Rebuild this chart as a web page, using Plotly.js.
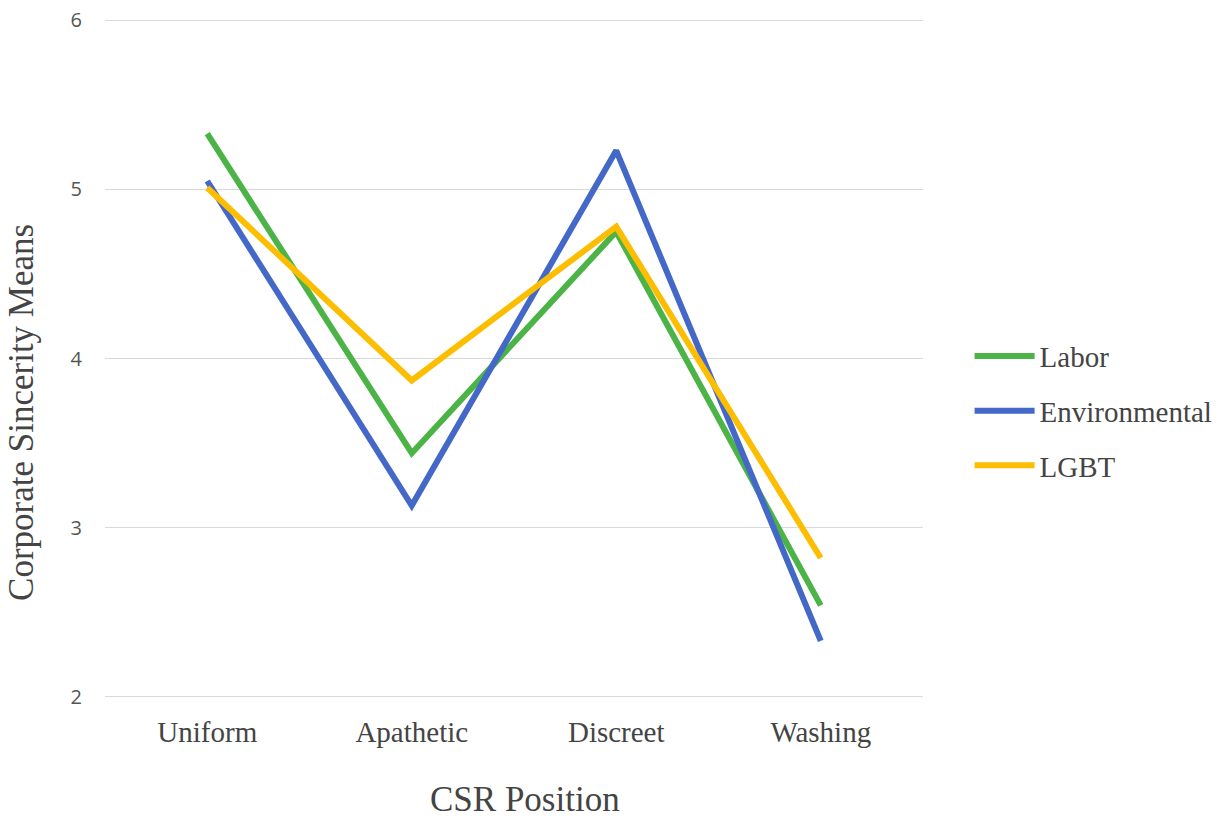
<!DOCTYPE html>
<html>
<head>
<meta charset="utf-8">
<script src="https://cdn.plot.ly/plotly-3.0.1.min.js"></script>
<style>html,body{margin:0;padding:0;background:#fff;}#chart{width:1225px;height:825px;}</style>
</head>
<body>
<div id="chart"></div>
<script>
const categories = ["Uniform", "Apathetic", "Discreet", "Washing"];
const labor = [5.33, 3.44, 4.75, 2.54];
const environmental = [5.05, 3.13, 5.23, 2.33];
const lgbt = [5.01, 3.87, 4.78, 2.82];
const yTicks = [2, 3, 4, 5, 6];
const xTitle = "CSR Position";
const yTitle = "Corporate Sincerity Means";

const serif = "Liberation Serif, Times New Roman, serif";
const mk = (name, y, color) => ({
  type: "scatter", mode: "lines", name: name, legendgroup: name, x: categories, y: y,
  line: {color: color, width: 6}, hoverinfo: "x+y+name"
});

const data = [
  mk("Labor", labor, "#4cb447"),
  mk("Environmental", environmental, "#4468c8"),
  mk("LGBT", lgbt, "#fdbd00")
];

const layout = {
  width: 1225, height: 825,
  margin: {l: 105, r: 302, t: 17, b: 125, autoexpand: false},
  paper_bgcolor: "#fff", plot_bgcolor: "#fff",
  showlegend: true,
  legend: {
    xref: "container", x: 0.7915, y: 0.423, xanchor: "left", yanchor: "middle",
    font: {family: serif, size: 29, color: "#444"},
    traceorder: "grouped", tracegroupgap: 14, itemwidth: 60
  },
  xaxis: {
    type: "category", range: [-0.5, 3.5],
    showgrid: false, zeroline: false, showline: false,
    ticks: "outside", ticklen: 6, tickcolor: "rgba(0,0,0,0)",
    tickfont: {family: serif, size: 29, color: "#444"}
  },
  yaxis: {
    range: [1.98, 6.02], tickvals: yTicks,
    showgrid: true, gridcolor: "#d9d9d9", gridwidth: 1,
    zeroline: false, showline: false,
    ticks: "outside", ticklen: 18, tickcolor: "rgba(0,0,0,0)",
    tickfont: {family: "Open Sans, sans-serif", size: 20, color: "#555"}
  },
  annotations: [
    {text: xTitle, xref: "paper", yref: "paper", x: 0.5134, y: -0.1464,
     xanchor: "center", yanchor: "middle", showarrow: false,
     font: {family: serif, size: 35, color: "#444"}},
    {text: yTitle, xref: "paper", yref: "paper", x: -0.1015, y: 0.4217, textangle: -90,
     xanchor: "center", yanchor: "middle", showarrow: false,
     font: {family: serif, size: 35, color: "#444"}}
  ]
};

Plotly.newPlot("chart", data, layout, {displayModeBar: false});
</script>
</body>
</html>
